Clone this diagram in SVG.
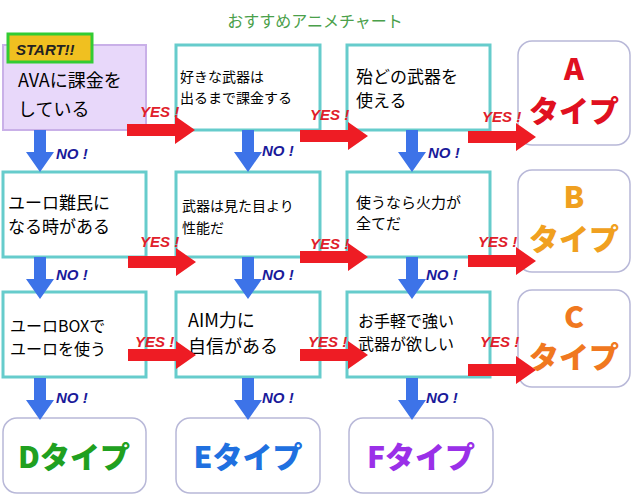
<svg xmlns="http://www.w3.org/2000/svg" width="640" height="495" viewBox="0 0 640 495">
<defs>
<style>
.q{fill:#fff;stroke:#66cccc;stroke-width:3}
.r{fill:#fff;stroke:#b8b8d8;stroke-width:1.5}
.t{font-family:"Noto Sans CJK JP",sans-serif;fill:#000}
.y{font-family:"Liberation Sans",sans-serif;font-weight:bold;font-style:italic;font-size:15px;fill:#e0202a}
.n{font-family:"Liberation Sans",sans-serif;font-weight:bold;font-style:italic;font-size:15px;fill:#1a1a9a}
.big{font-family:"Noto Sans CJK JP",sans-serif;font-weight:900;text-anchor:middle}
</style>
<path id="ra" d="M0,-6 H48 V-14 L68,0 L48,14 V6 H0 Z" fill="#ee1c24"/>
<path id="ba" d="M-6,0 V22 H-14 L0,42 L14,22 H6 V0 Z" fill="#3d73e8"/>
</defs>
<rect width="640" height="495" fill="#fff"/>
<text x="315" y="27" font-family="Noto Sans CJK JP,sans-serif" font-size="16" fill="#4aa04a" text-anchor="middle">おすすめアニメチャート</text>
<g id="start"><rect x="3" y="45" width="143" height="85" fill="#e8d8fa" stroke="#c9b0e8" stroke-width="2"/>
<rect x="8" y="34" width="84" height="28" fill="#f0c020" stroke="#33cc33" stroke-width="3"/>
<text x="16" y="55" font-family="Liberation Sans,sans-serif" font-weight="bold" font-style="italic" font-size="15" fill="#222">START!!</text>
<text class="t" font-size="18"><tspan x="18" y="87">AVAに課金を</tspan><tspan x="18" y="116">している</tspan></text></g>
<g id="q2"><rect class="q" x="176" y="45" width="144" height="85"/><text class="t" font-size="14"><tspan x="180" y="82">好きな武器は</tspan><tspan x="180" y="103">出るまで課金する</tspan></text></g>
<g id="q3"><rect class="q" x="347" y="45" width="143" height="85"/><text class="t" font-size="17"><tspan x="356" y="83">殆どの武器を</tspan><tspan x="356" y="107">使える</tspan></text></g>
<g id="q4"><rect class="q" x="3" y="172" width="143" height="85"/><text class="t" font-size="17"><tspan x="8" y="209">ユーロ難民に</tspan><tspan x="8" y="233">なる時がある</tspan></text></g>
<g id="q5"><rect class="q" x="176" y="172" width="144" height="85"/><text class="t" font-size="14"><tspan x="182" y="211">武器は見た目より</tspan><tspan x="182" y="233">性能だ</tspan></text></g>
<g id="q6"><rect class="q" x="347" y="172" width="143" height="85"/><text class="t" font-size="15"><tspan x="356" y="208">使うなら火力が</tspan><tspan x="356" y="229">全てだ</tspan></text></g>
<g id="q7"><rect class="q" x="3" y="292" width="143" height="85"/><text class="t" font-size="16"><tspan x="10" y="332">ユーロBOXで</tspan><tspan x="10" y="355">ユーロを使う</tspan></text></g>
<g id="q8"><rect class="q" x="176" y="292" width="144" height="85"/><text class="t" font-size="18"><tspan x="188" y="327">AIM力に</tspan><tspan x="188" y="353">自信がある</tspan></text></g>
<g id="q9"><rect class="q" x="347" y="292" width="143" height="85"/><text class="t" font-size="16"><tspan x="358" y="327">お手軽で強い</tspan><tspan x="358" y="350">武器が欲しい</tspan></text></g>
<g id="A"><rect class="r" x="518" y="41" width="112" height="104" rx="14"/><text class="big" x="574" y="80" font-size="30" fill="#e01020">A</text><text class="big" x="574" y="122" font-size="30" fill="#e01020">タイプ</text></g>
<g id="B"><rect class="r" x="518" y="170" width="112" height="102" rx="14"/><text class="big" x="574" y="208" font-size="30" fill="#f0a020">B</text><text class="big" x="574" y="250" font-size="30" fill="#f0a020">タイプ</text></g>
<g id="C"><rect class="r" x="518" y="290" width="112" height="97" rx="14"/><text class="big" x="574" y="328" font-size="30" fill="#f07820">C</text><text class="big" x="574" y="368" font-size="30" fill="#f07820">タイプ</text></g>
<g id="D"><rect class="r" x="3" y="418" width="143" height="75" rx="14"/><text class="big" x="74" y="468" font-size="30" fill="#20a020">Dタイプ</text></g>
<g id="E"><rect class="r" x="176" y="418" width="144" height="75" rx="14"/><text class="big" x="248" y="468" font-size="30" fill="#2070e0">Eタイプ</text></g>
<g id="F"><rect class="r" x="349" y="418" width="144" height="75" rx="14"/><text class="big" x="421" y="468" font-size="30" fill="#9a30e8">Fタイプ</text></g>
<g id="connectors">
<use href="#ra" x="127" y="130"/><use href="#ra" x="300" y="136"/><use href="#ra" x="468" y="137"/>
<use href="#ra" x="128" y="262"/><use href="#ra" x="300" y="257"/><use href="#ra" x="468" y="261"/>
<use href="#ra" x="128" y="355"/><use href="#ra" x="300" y="355"/><use href="#ra" x="468" y="370"/>
<use href="#ba" x="40" y="130"/><use href="#ba" x="248" y="130"/><use href="#ba" x="412" y="130"/>
<use href="#ba" x="40" y="257"/><use href="#ba" x="248" y="257"/><use href="#ba" x="412" y="257"/>
<use href="#ba" x="40" y="378"/><use href="#ba" x="248" y="378"/><use href="#ba" x="412" y="378"/>
<text class="y" x="140" y="117">YES !</text><text class="y" x="310" y="120">YES !</text><text class="y" x="482" y="122">YES !</text>
<text class="y" x="140" y="247">YES !</text><text class="y" x="310" y="249">YES !</text><text class="y" x="478" y="247">YES !</text>
<text class="y" x="135" y="347">YES !</text><text class="y" x="308" y="347">YES !</text><text class="y" x="480" y="347">YES !</text>
<text class="n" x="56" y="159">NO !</text><text class="n" x="262" y="156">NO !</text><text class="n" x="428" y="158">NO !</text>
<text class="n" x="56" y="280">NO !</text><text class="n" x="262" y="280">NO !</text><text class="n" x="426" y="280">NO !</text>
<text class="n" x="56" y="403">NO !</text><text class="n" x="262" y="403">NO !</text><text class="n" x="426" y="403">NO !</text>
</g>
</svg>
